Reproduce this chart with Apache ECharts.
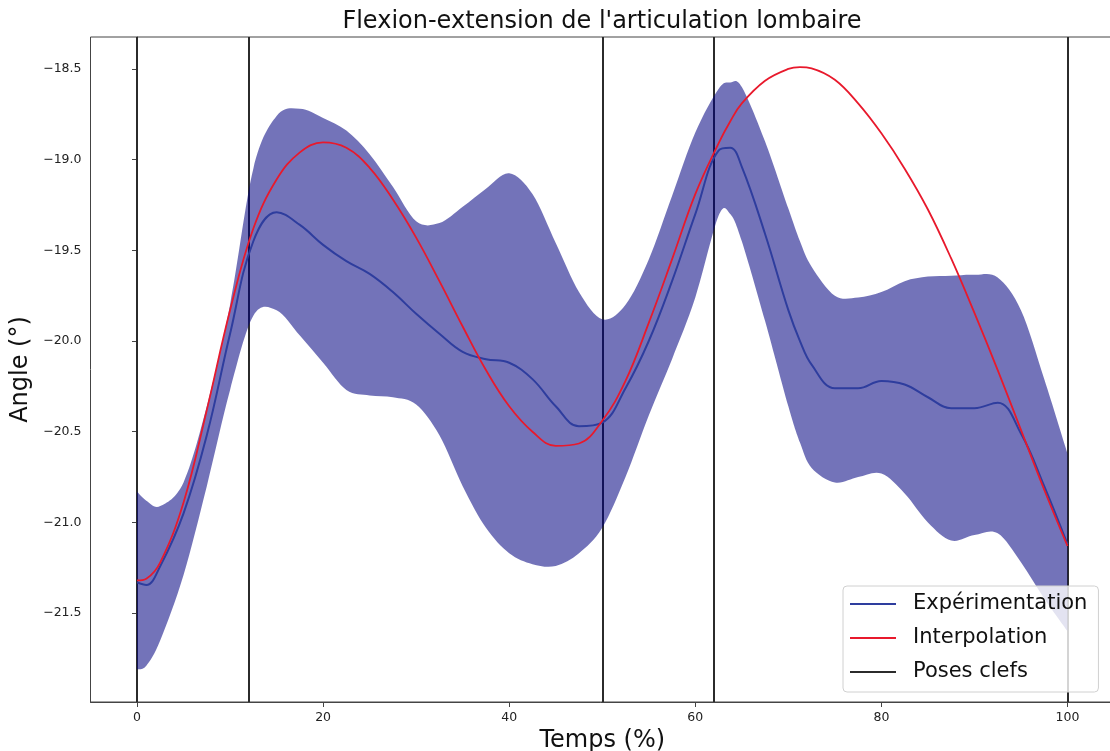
<!DOCTYPE html>
<html>
<head>
<meta charset="utf-8">
<title>Flexion-extension de l'articulation lombaire</title>
<script src="https://cdn.jsdelivr.net/npm/echarts@6/dist/echarts.min.js"></script>
<style>
  html, body { margin: 0; padding: 0; background: #fff; }
  #chart { width: 1110px; height: 751px; }
</style>
</head>
<body>
<div id="chart"></div>
<script>
// temps (%) des échantillons
const temps = [0, 1, 2.5, 5, 7.5, 10, 12.5, 15, 17.5, 20,
  22.5, 25, 27.5, 30, 32.5, 35, 37.5, 40, 42.5, 45,
  47.5, 50, 52.5, 55, 57.5, 60, 62.5, 63.75, 65,
  67.5, 70, 71.25, 72.5, 75, 77.5, 80, 82.5,
  85, 87.5, 90, 92.5, 95, 97.5, 100];

// moyenne expérimentale (°)
const experimentation = [-21.33, -21.345, -21.24, -20.95, -20.52, -19.96, -19.45, -19.29, -19.36, -19.47,
  -19.56, -19.63, -19.73, -19.85, -19.96, -20.06, -20.10, -20.12, -20.21, -20.36,
  -20.47, -20.45, -20.26, -20.00, -19.67, -19.30, -18.95, -18.935, -19.04,
  -19.41, -19.83, -20.00, -20.13, -20.26, -20.26, -20.22, -20.24,
  -20.31, -20.37, -20.37, -20.34, -20.51, -20.80, -21.12];

// courbe interpolée entre les poses clefs (°)
const interpolation = [-21.32, -21.31, -21.22, -20.89, -20.38, -19.83, -19.38, -19.11, -18.96, -18.905,
  -18.935, -19.045, -19.22, -19.43, -19.67, -19.92, -20.16, -20.36, -20.50, -20.578,
  -20.565, -20.44, -20.22, -19.90, -19.55, -19.19, -18.91, -18.79, -18.69,
  -18.565, -18.50, -18.49, -18.497, -18.56, -18.69, -18.855, -19.05,
  -19.275, -19.545, -19.845, -20.16, -20.49, -20.82, -21.13];

// enveloppe haute / basse autour de la moyenne
const bandeHaute = [-20.83, -20.88, -20.91, -20.78, -20.36, -19.80, -19.05, -18.76, -18.72, -18.77,
  -18.84, -18.97, -19.15, -19.34, -19.35, -19.26, -19.16, -19.075, -19.19, -19.46,
  -19.73, -19.88, -19.80, -19.55, -19.20, -18.85, -18.61, -18.575, -18.60,
  -18.90, -19.27, -19.45, -19.59, -19.75, -19.76, -19.73, -19.67,
  -19.645, -19.64, -19.635, -19.65, -19.83, -20.21, -20.62];
const bandeBasse = [-21.81, -21.79, -21.65, -21.29, -20.80, -20.27, -19.86, -19.83, -19.97, -20.12,
  -20.27, -20.30, -20.31, -20.35, -20.52, -20.80, -21.03, -21.17, -21.23, -21.24,
  -21.17, -21.03, -20.75, -20.41, -20.10, -19.76, -19.31, -19.30, -19.45,
  -19.89, -20.36, -20.56, -20.70, -20.78, -20.75, -20.73, -20.84,
  -21.00, -21.10, -21.07, -21.06, -21.22, -21.42, -21.60];

const posesClefs = [0, 12, 50, 62, 100];
const xTicks = [0, 20, 40, 60, 80, 100];
const yTicks = [-21.5, -21.0, -20.5, -20.0, -19.5, -19.0, -18.5];

const FONT = "DejaVu Sans";
const BLEU = "#2e3d9e";
const ROUGE = "#e8192c";

// courbe lisse (catmull-rom -> bézier) à travers des points en pixels
function cheminLisse(pts) {
  let d = "";
  for (let i = 0; i < pts.length - 1; i++) {
    const p0 = pts[i - 1] || pts[i];
    const p1 = pts[i];
    const p2 = pts[i + 1];
    const p3 = pts[i + 2] || p2;
    const c1x = p1[0] + (p2[0] - p0[0]) / 6, c1y = p1[1] + (p2[1] - p0[1]) / 6;
    const c2x = p2[0] - (p3[0] - p1[0]) / 6, c2y = p2[1] - (p3[1] - p1[1]) / 6;
    d += " C" + c1x + "," + c1y + " " + c2x + "," + c2y + " " + p2[0] + "," + p2[1];
  }
  return d;
}

function dessinerBande(params, api) {
  if (params.dataIndex !== 0) return;
  const haut = temps.map(function (t, i) { return api.coord([t, bandeHaute[i]]); });
  const bas = temps.map(function (t, i) { return api.coord([t, bandeBasse[i]]); }).reverse();
  const d = "M" + haut[0][0] + "," + haut[0][1] + cheminLisse(haut) +
    " L" + bas[0][0] + "," + bas[0][1] + cheminLisse(bas) + " Z";
  return {
    type: "path",
    shape: { pathData: d },
    style: { fill: "rgba(0,0,128,0.55)", stroke: null }
  };
}

const chart = echarts.init(document.getElementById("chart"));

chart.setOption({
  animation: false,
  textStyle: { fontFamily: FONT },
  title: {
    text: "Flexion-extension de l'articulation lombaire",
    left: 602,
    top: 10,
    padding: 0,
    textAlign: "center",
    textStyle: { fontSize: 24, fontWeight: "normal", color: "#111", fontFamily: FONT }
  },
  legend: {
    orient: "vertical",
    left: 843,
    top: 586,
    padding: [6, 11, 8, 7],
    itemWidth: 46,
    itemHeight: 2,
    itemGap: 10,
    icon: "rect",
    backgroundColor: "rgba(255,255,255,0.8)",
    borderColor: "#d0d0d0",
    borderWidth: 1,
    borderRadius: 4,
    textStyle: { fontSize: 21, lineHeight: 24, color: "#111", fontFamily: FONT, padding: [0, 0, 0, 12] },
    data: ["Expérimentation", "Interpolation", "Poses clefs"]
  },
  grid: {
    left: 90.5,
    right: -4,
    top: 37,
    bottom: 49,
    show: true,
    borderColor: "#444",
    borderWidth: 1,
    containLabel: false,
    outerBoundsMode: "none"
  },
  xAxis: {
    type: "value",
    min: -5,
    max: 105,
    name: "Temps (%)",
    nameLocation: "middle",
    nameGap: 25,
    nameTextStyle: { fontSize: 24, color: "#111", fontFamily: FONT },
    splitLine: { show: false },
    axisLine: { show: true, lineStyle: { color: "#444", width: 1 } },
    axisTick: { show: true, customValues: xTicks, length: 5, lineStyle: { color: "#444" } },
    axisLabel: { customValues: xTicks, margin: 9, fontSize: 12.5, color: "#222", fontFamily: FONT }
  },
  yAxis: {
    type: "value",
    min: -21.99,
    max: -18.324,
    name: "Angle (°)",
    nameLocation: "middle",
    nameGap: 55,
    nameRotate: 90,
    nameTextStyle: { fontSize: 24, color: "#111", fontFamily: FONT },
    splitLine: { show: false },
    axisLine: { show: true, lineStyle: { color: "#444", width: 1 } },
    axisTick: { show: true, customValues: yTicks, length: 5, lineStyle: { color: "#444" } },
    axisLabel: {
      customValues: yTicks,
      margin: 9,
      fontSize: 12.5,
      color: "#222",
      fontFamily: FONT,
      formatter: function (v) { return v.toFixed(1).replace("-", "\u2212"); }
    }
  },
  series: [
    {
      name: "Poses clefs",
      type: "line",
      data: [],
      color: "#2b2b2b",
      z: 1,
      markLine: {
        silent: true,
        z: 1,
        symbol: ["none", "none"],
        label: { show: false },
        lineStyle: { color: "#2b2b2b", width: 2, type: "solid" },
        data: posesClefs.map(function (p) { return { xAxis: p }; })
      }
    },
    {
      name: "bande",
      type: "custom",
      z: 2,
      silent: true,
      renderItem: dessinerBande,
      encode: { x: 0, y: [1, 2] },
      data: temps.map(function (t, i) { return [t, bandeBasse[i], bandeHaute[i]]; })
    },
    {
      name: "Expérimentation",
      type: "line",
      color: BLEU,
      symbol: "none",
      smooth: 0.4,
      lineStyle: { color: BLEU, width: 2 },
      z: 3,
      data: temps.map(function (t, i) { return [t, experimentation[i]]; })
    },
    {
      name: "Interpolation",
      type: "line",
      color: ROUGE,
      symbol: "none",
      smooth: 0.4,
      lineStyle: { color: ROUGE, width: 1.8 },
      z: 3,
      data: temps.map(function (t, i) { return [t, interpolation[i]]; })
    }
  ]
});
</script>
</body>
</html>
